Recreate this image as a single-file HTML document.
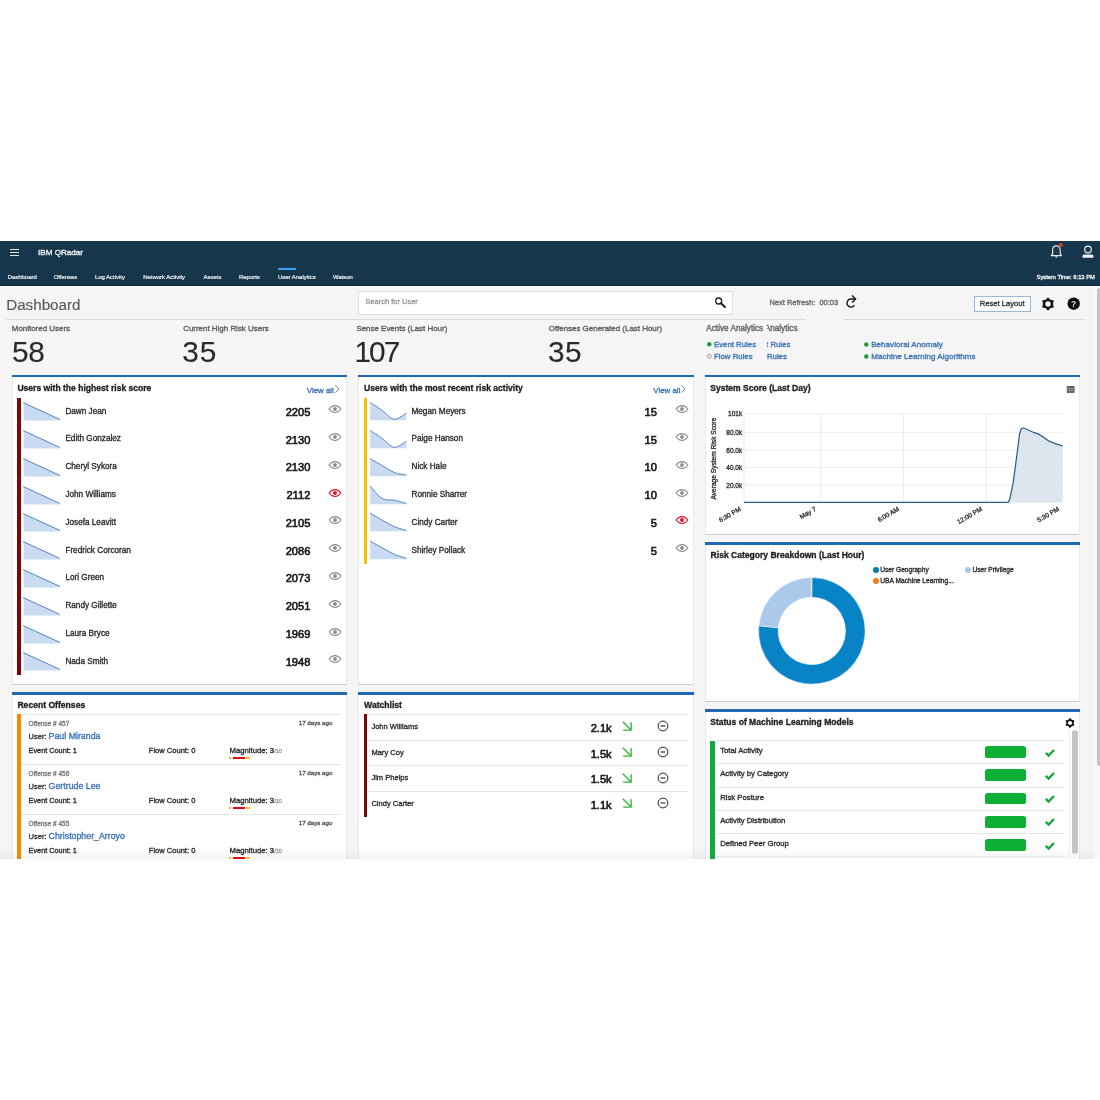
<!DOCTYPE html>
<html><head><meta charset="utf-8"><title>IBM QRadar - User Analytics Dashboard</title>
<style>
html,body{margin:0;padding:0;background:#fff;}
body{width:1100px;height:1100px;position:relative;overflow:hidden;font-family:"Liberation Sans",Arial,Helvetica,sans-serif;}
.t{position:absolute;white-space:nowrap;line-height:1;-webkit-text-stroke:0.32px;}
.r{position:absolute;}
.s{position:absolute;overflow:visible;}
svg text{font-family:"Liberation Sans",Arial,sans-serif;stroke:#2a2a2a;stroke-width:0.3px;}
#app{position:absolute;left:0;top:0;width:1100px;height:1100px;filter:blur(0.35px);}
</style></head><body><div id="app">
<div class="r" style="left:0.00px;top:241.00px;width:1100.00px;height:26.40px;background:#15364b;"></div>
<div class="r" style="left:0.00px;top:267.40px;width:1100.00px;height:18.20px;background:#15364b;"></div>
<div class="r" style="left:0.00px;top:267.00px;width:1100.00px;height:0.80px;background:#1a3b53;"></div>
<div class="r" style="left:0.00px;top:285.00px;width:1100.00px;height:0.60px;background:#10293a;"></div>
<div class="r" style="left:10.00px;top:248.90px;width:9.00px;height:1.20px;background:#e6e9ec;"></div>
<div class="r" style="left:10.00px;top:251.90px;width:9.00px;height:1.20px;background:#e6e9ec;"></div>
<div class="r" style="left:10.00px;top:254.90px;width:9.00px;height:1.20px;background:#e6e9ec;"></div>
<div class="t" style="left:38.00px;top:248.95px;font-size:8.1px;color:#f2f4f6;">IBM QRadar</div>
<div class="t" style="left:7.70px;top:275.32px;font-size:5.95px;color:#f0f2f4;-webkit-text-stroke:0.2px;">Dashboard</div>
<div class="t" style="left:53.70px;top:275.32px;font-size:5.95px;color:#f0f2f4;-webkit-text-stroke:0.2px;">Offenses</div>
<div class="t" style="left:94.90px;top:275.32px;font-size:5.95px;color:#f0f2f4;-webkit-text-stroke:0.2px;">Log Activity</div>
<div class="t" style="left:143.20px;top:275.32px;font-size:5.95px;color:#f0f2f4;-webkit-text-stroke:0.2px;">Network Activity</div>
<div class="t" style="left:203.60px;top:275.32px;font-size:5.95px;color:#f0f2f4;-webkit-text-stroke:0.2px;">Assets</div>
<div class="t" style="left:239.00px;top:275.32px;font-size:5.95px;color:#f0f2f4;-webkit-text-stroke:0.2px;">Reports</div>
<div class="t" style="left:278.00px;top:275.32px;font-size:5.95px;color:#f0f2f4;-webkit-text-stroke:0.2px;">User Analytics</div>
<div class="t" style="left:333.00px;top:275.32px;font-size:5.95px;color:#f0f2f4;-webkit-text-stroke:0.2px;">Watson</div>
<div class="r" style="left:278.00px;top:268.00px;width:17.60px;height:2.40px;background:#3d9fec;"></div>
<div class="t" style="right:5.10px;top:274.50px;font-size:5.8px;color:#f0f2f4;">System Time: 6:13 PM</div>
<svg class="s" style="left:1049.00px;top:243.00px;" width="16" height="17" viewBox="0 0 16 17"><path d="M2.2 12.6 H12.6 L11.2 10.8 V7.2 C11.2 4.6 9.6 2.9 7.4 2.9 C5.2 2.9 3.6 4.6 3.6 7.2 V10.8 Z" fill="none" stroke="#e8ecef" stroke-width="1.15" stroke-linejoin="round"/><path d="M5.9 13.6 H8.9 L7.4 15 Z" fill="#e8ecef"/><circle cx="11.7" cy="2.1" r="2.1" fill="#e5352b"/></svg>
<svg class="s" style="left:1081.00px;top:244.00px;" width="14" height="15" viewBox="0 0 14 15"><circle cx="7" cy="5.5" r="3.3" fill="none" stroke="#eef1f3" stroke-width="1.2"/><path d="M1.5 13.8 V12.2 C1.5 11 2.4 10.5 3.6 10.5 H10.4 C11.6 10.5 12.5 11 12.5 12.2 V13.8 Z" fill="#eef1f3"/></svg>
<div class="r" style="left:0.00px;top:285.60px;width:1100.00px;height:573.20px;background:#f5f5f5;"></div>
<div class="r" style="left:0.00px;top:285.60px;width:1093.60px;height:2.40px;background:linear-gradient(#fcfcfc,#f5f5f5);"></div>
<div class="r" style="left:1093.60px;top:285.60px;width:6.40px;height:573.20px;background:#f9f9f9;"></div>
<div class="r" style="left:1096.60px;top:287.90px;width:5.00px;height:478.00px;background:#c3c3c3;border-radius:3px;"></div>
<div class="t" style="left:6.20px;top:297.20px;font-size:15.2px;color:#555a5e;-webkit-text-stroke:0.12px;">Dashboard</div>
<div class="r" style="left:358.40px;top:291.30px;width:375.10px;height:23.80px;background:#fff;box-sizing:border-box;border:1px solid #dedede;"></div>
<div class="t" style="left:365.30px;top:298.25px;font-size:7.5px;color:#9a9a9a;">Search for User</div>
<svg class="s" style="left:713.00px;top:295.00px;" width="15" height="15" viewBox="0 0 15 15"><circle cx="5.7" cy="6.0" r="3.0" fill="none" stroke="#1e1e1e" stroke-width="1.3"/><path d="M8.0 8.3 L11.9 12.0" stroke="#1e1e1e" stroke-width="2" stroke-linecap="round"/></svg>
<div class="t" style="left:769.40px;top:298.65px;font-size:7.5px;color:#666;">Next Refresh:&nbsp; 00:03</div>
<svg class="s" style="left:845.00px;top:294.00px;" width="13" height="15" viewBox="0 0 13 15"><path d="M9.4 11.2 A4 4 0 1 1 6.6 5 L10.4 5" fill="none" stroke="#151515" stroke-width="1.35"/><path d="M7 1.5 L10.6 5 L7 8.5" fill="none" stroke="#151515" stroke-width="1.4"/></svg>
<div class="r" style="left:974.00px;top:296.20px;width:56.70px;height:15.50px;background:#fff;box-sizing:border-box;border:1px solid #9cb9dd;"></div>
<div class="t" style="left:979.80px;top:299.80px;font-size:7.6px;color:#333;">Reset Layout</div>
<svg class="s" style="left:1041.40px;top:296.70px;" width="14" height="14" viewBox="0 0 14 14"><circle cx="7.00" cy="2.10" r="1.45" fill="#0c0c0c"/><circle cx="11.24" cy="4.55" r="1.45" fill="#0c0c0c"/><circle cx="11.24" cy="9.45" r="1.45" fill="#0c0c0c"/><circle cx="7.00" cy="11.90" r="1.45" fill="#0c0c0c"/><circle cx="2.76" cy="9.45" r="1.45" fill="#0c0c0c"/><circle cx="2.76" cy="4.55" r="1.45" fill="#0c0c0c"/><circle cx="7" cy="7" r="3.90" fill="none" stroke="#0c0c0c" stroke-width="2.30"/></svg>
<svg class="s" style="left:1066.50px;top:297.10px;" width="14" height="14" viewBox="0 0 14 14"><circle cx="6.7" cy="6.7" r="6.25" fill="#0d0d0d"/><text x="6.7" y="9.8" text-anchor="middle" font-family="Liberation Sans" font-weight="700" font-size="8.6" fill="#e4e4e4" style="stroke:none">?</text></svg>
<div class="r" style="left:6.40px;top:319.00px;width:799.60px;height:0.90px;background:#dcdcdc;"></div>
<div class="r" style="left:843.70px;top:319.00px;width:241.50px;height:0.90px;background:#dcdcdc;"></div>
<div class="t" style="left:11.80px;top:324.92px;font-size:7.95px;color:#5b5b5b;">Monitored Users</div>
<div class="t" style="left:11.90px;top:336.50px;font-size:29.8px;color:#2a2a2a;letter-spacing:-0.3px;-webkit-text-stroke:0.1px;">58</div>
<div class="t" style="left:183.20px;top:324.92px;font-size:7.95px;color:#5b5b5b;">Current High Risk Users</div>
<div class="t" style="left:182.30px;top:336.50px;font-size:29.8px;color:#2a2a2a;letter-spacing:1.0px;-webkit-text-stroke:0.1px;">35</div>
<div class="t" style="left:356.40px;top:324.92px;font-size:7.95px;color:#5b5b5b;">Sense Events (Last Hour)</div>
<div class="t" style="left:354.50px;top:336.50px;font-size:29.8px;color:#2a2a2a;letter-spacing:-2.0px;-webkit-text-stroke:0.1px;">107</div>
<div class="t" style="left:548.80px;top:324.92px;font-size:7.95px;color:#5b5b5b;">Offenses Generated (Last Hour)</div>
<div class="t" style="left:547.90px;top:336.50px;font-size:29.8px;color:#2a2a2a;letter-spacing:0.5px;-webkit-text-stroke:0.1px;">35</div>
<div class="t" style="left:706.30px;top:324.80px;font-size:8.2px;color:#5b5b5b;">Active Analytics</div>
<div class="t" style="left:714.00px;top:340.80px;font-size:7.8px;color:#3a72b8;">Event Rules</div>
<div class="t" style="left:714.00px;top:352.80px;font-size:7.8px;color:#3a72b8;">Flow Rules</div>
<svg class="s" style="left:706.00px;top:341.00px;" width="8" height="18" viewBox="0 0 8 18"><circle cx="3.3" cy="3.3" r="2.2" fill="#1f9a3a"/><circle cx="3.3" cy="15.3" r="1.9" fill="none" stroke="#8a8a8a" stroke-width="0.9"/></svg>
<div class="r" style="left:766.6px;top:322px;width:40px;height:40px;overflow:hidden;background:#f5f5f5">
<div class="t" style="left:-26.00px;top:2.80px;font-size:8.2px;color:#5b5b5b">Active Analytics</div>
<div class="t" style="left:-18.30px;top:18.80px;font-size:7.8px;color:#3a72b8">Event Rules</div>
<div class="t" style="left:-18.30px;top:30.80px;font-size:7.8px;color:#3a72b8">Flow Rules</div>
</div>
<svg class="s" style="left:862.00px;top:341.00px;" width="8" height="18" viewBox="0 0 8 18"><circle cx="4.3" cy="3.5" r="2.2" fill="#1f9a3a"/><circle cx="4.3" cy="15.5" r="2.2" fill="#1f9a3a"/></svg>
<div class="t" style="left:871.20px;top:340.85px;font-size:8.1px;color:#3a72b8;">Behavioral Anomaly</div>
<div class="t" style="left:871.20px;top:352.85px;font-size:8.1px;color:#3a72b8;">Machine Learning Algorithms</div>
<div class="r" style="left:11.60px;top:375.00px;width:335.50px;height:309.80px;background:#fff;box-sizing:border-box;border:1px solid #e9e9e9;border-top:none;border-bottom-color:#cdcdcd;"></div>
<div class="r" style="left:11.60px;top:375.00px;width:335.50px;height:2.40px;background:#2168b3;"></div>
<div class="r" style="left:358.30px;top:375.00px;width:335.30px;height:309.80px;background:#fff;box-sizing:border-box;border:1px solid #e9e9e9;border-top:none;border-bottom-color:#cdcdcd;"></div>
<div class="r" style="left:358.30px;top:375.00px;width:335.30px;height:2.40px;background:#2168b3;"></div>
<div class="r" style="left:705.00px;top:375.00px;width:375.20px;height:159.80px;background:#fff;box-sizing:border-box;border:1px solid #e9e9e9;border-top:none;border-bottom-color:#cdcdcd;"></div>
<div class="r" style="left:705.00px;top:375.00px;width:375.20px;height:2.40px;background:#2168b3;"></div>
<div class="r" style="left:705.00px;top:542.30px;width:375.20px;height:159.60px;background:#fff;box-sizing:border-box;border:1px solid #e9e9e9;border-top:none;border-bottom-color:#cdcdcd;"></div>
<div class="r" style="left:705.00px;top:542.30px;width:375.20px;height:2.40px;background:#2168b3;"></div>
<div class="r" style="left:704.80px;top:709.40px;width:375.00px;height:160.00px;background:#fff;box-sizing:border-box;border:1px solid #e9e9e9;border-top:none;border-bottom-color:#cdcdcd;"></div>
<div class="r" style="left:704.80px;top:709.40px;width:375.00px;height:2.40px;background:#2168b3;"></div>
<div class="r" style="left:11.60px;top:692.40px;width:335.50px;height:170.00px;background:#fff;box-sizing:border-box;border:1px solid #e9e9e9;border-top:none;border-bottom-color:#cdcdcd;"></div>
<div class="r" style="left:11.60px;top:692.40px;width:335.50px;height:2.40px;background:#2168b3;"></div>
<div class="r" style="left:358.30px;top:692.40px;width:335.30px;height:170.00px;background:#fff;box-sizing:border-box;border:1px solid #e9e9e9;border-top:none;border-bottom-color:#cdcdcd;"></div>
<div class="r" style="left:358.30px;top:692.40px;width:335.30px;height:2.40px;background:#2168b3;"></div>
<div class="r" style="left:0.00px;top:846.00px;width:1093.60px;height:12.80px;background:linear-gradient(rgba(0,0,0,0),rgba(0,0,0,0.035));"></div>
<div class="t" style="left:17.40px;top:384.03px;font-size:8.55px;color:#1f1f1f;font-weight:700;">Users with the highest risk score</div>
<div class="t" style="left:306.80px;top:386.55px;font-size:7.9px;color:#3a72b8;">View all</div>
<svg class="s" style="left:333.90px;top:383.50px;" width="7" height="10" viewBox="0 0 7 10"><path d="M1.2 1.2 L5 5 L1.2 8.8" fill="none" stroke="#7a7a7a" stroke-width="0.9"/></svg>
<div class="r" style="left:17.10px;top:397.90px;width:3.70px;height:277.60px;background:#7d0606;"></div>
<svg class="s" style="left:22.00px;top:401.30px;" width="40" height="21" viewBox="0 0 40 21"><path d="M1.6 1.7 L37.8 18.5 L37.8 19.4 L1.6 19.4 Z" fill="#c9dbf0"/><path d="M1.2 1.6 L37.8 18.4" fill="none" stroke="#4477b8" stroke-width="0.9"/></svg>
<div class="t" style="left:65.40px;top:407.60px;font-size:8.2px;color:#2a2a2a;">Dawn Jean</div>
<div class="t" style="right:789.70px;top:406.75px;font-size:11.1px;color:#161616;-webkit-text-stroke:0.6px #161616;">2205</div>
<svg class="s" style="left:328.00px;top:404.30px;" width="14" height="10" viewBox="0 0 14 10"><path d="M1.1 5 C3 2.3 5 1.6 7 1.6 C9 1.6 11 2.3 12.9 5 C11 7.7 9 8.4 7 8.4 C5 8.4 3 7.7 1.1 5 Z" fill="none" stroke="#8c8c8c" stroke-width="1.05"/><circle cx="7" cy="5" r="1.95" fill="#8c8c8c"/></svg>
<svg class="s" style="left:22.00px;top:429.08px;" width="40" height="21" viewBox="0 0 40 21"><path d="M1.6 1.7 L37.8 18.5 L37.8 19.4 L1.6 19.4 Z" fill="#c9dbf0"/><path d="M1.2 1.6 L37.8 18.4" fill="none" stroke="#4477b8" stroke-width="0.9"/></svg>
<div class="t" style="left:65.40px;top:435.38px;font-size:8.2px;color:#2a2a2a;">Edith Gonzalez</div>
<div class="t" style="right:789.70px;top:434.53px;font-size:11.1px;color:#161616;-webkit-text-stroke:0.6px #161616;">2130</div>
<svg class="s" style="left:328.00px;top:432.08px;" width="14" height="10" viewBox="0 0 14 10"><path d="M1.1 5 C3 2.3 5 1.6 7 1.6 C9 1.6 11 2.3 12.9 5 C11 7.7 9 8.4 7 8.4 C5 8.4 3 7.7 1.1 5 Z" fill="none" stroke="#8c8c8c" stroke-width="1.05"/><circle cx="7" cy="5" r="1.95" fill="#8c8c8c"/></svg>
<svg class="s" style="left:22.00px;top:456.86px;" width="40" height="21" viewBox="0 0 40 21"><path d="M1.6 1.7 L37.8 18.5 L37.8 19.4 L1.6 19.4 Z" fill="#c9dbf0"/><path d="M1.2 1.6 L37.8 18.4" fill="none" stroke="#4477b8" stroke-width="0.9"/></svg>
<div class="t" style="left:65.40px;top:463.16px;font-size:8.2px;color:#2a2a2a;">Cheryl Sykora</div>
<div class="t" style="right:789.70px;top:462.31px;font-size:11.1px;color:#161616;-webkit-text-stroke:0.6px #161616;">2130</div>
<svg class="s" style="left:328.00px;top:459.86px;" width="14" height="10" viewBox="0 0 14 10"><path d="M1.1 5 C3 2.3 5 1.6 7 1.6 C9 1.6 11 2.3 12.9 5 C11 7.7 9 8.4 7 8.4 C5 8.4 3 7.7 1.1 5 Z" fill="none" stroke="#8c8c8c" stroke-width="1.05"/><circle cx="7" cy="5" r="1.95" fill="#8c8c8c"/></svg>
<svg class="s" style="left:22.00px;top:484.64px;" width="40" height="21" viewBox="0 0 40 21"><path d="M1.6 1.7 L37.8 18.5 L37.8 19.4 L1.6 19.4 Z" fill="#c9dbf0"/><path d="M1.2 1.6 L37.8 18.4" fill="none" stroke="#4477b8" stroke-width="0.9"/></svg>
<div class="t" style="left:65.40px;top:490.94px;font-size:8.2px;color:#2a2a2a;">John Williams</div>
<div class="t" style="right:789.70px;top:490.09px;font-size:11.1px;color:#161616;-webkit-text-stroke:0.6px #161616;">2112</div>
<svg class="s" style="left:328.00px;top:487.64px;" width="14" height="10" viewBox="0 0 14 10"><path d="M1.1 5 C3 2.3 5 1.6 7 1.6 C9 1.6 11 2.3 12.9 5 C11 7.7 9 8.4 7 8.4 C5 8.4 3 7.7 1.1 5 Z" fill="none" stroke="#d3142d" stroke-width="1.05"/><circle cx="7" cy="5" r="1.95" fill="#f00a1e"/></svg>
<svg class="s" style="left:22.00px;top:512.42px;" width="40" height="21" viewBox="0 0 40 21"><path d="M1.6 1.7 L37.8 18.5 L37.8 19.4 L1.6 19.4 Z" fill="#c9dbf0"/><path d="M1.2 1.6 L37.8 18.4" fill="none" stroke="#4477b8" stroke-width="0.9"/></svg>
<div class="t" style="left:65.40px;top:518.72px;font-size:8.2px;color:#2a2a2a;">Josefa Leavitt</div>
<div class="t" style="right:789.70px;top:517.87px;font-size:11.1px;color:#161616;-webkit-text-stroke:0.6px #161616;">2105</div>
<svg class="s" style="left:328.00px;top:515.42px;" width="14" height="10" viewBox="0 0 14 10"><path d="M1.1 5 C3 2.3 5 1.6 7 1.6 C9 1.6 11 2.3 12.9 5 C11 7.7 9 8.4 7 8.4 C5 8.4 3 7.7 1.1 5 Z" fill="none" stroke="#8c8c8c" stroke-width="1.05"/><circle cx="7" cy="5" r="1.95" fill="#8c8c8c"/></svg>
<svg class="s" style="left:22.00px;top:540.20px;" width="40" height="21" viewBox="0 0 40 21"><path d="M1.6 1.7 L37.8 18.5 L37.8 19.4 L1.6 19.4 Z" fill="#c9dbf0"/><path d="M1.2 1.6 L37.8 18.4" fill="none" stroke="#4477b8" stroke-width="0.9"/></svg>
<div class="t" style="left:65.40px;top:546.50px;font-size:8.2px;color:#2a2a2a;">Fredrick Corcoran</div>
<div class="t" style="right:789.70px;top:545.65px;font-size:11.1px;color:#161616;-webkit-text-stroke:0.6px #161616;">2086</div>
<svg class="s" style="left:328.00px;top:543.20px;" width="14" height="10" viewBox="0 0 14 10"><path d="M1.1 5 C3 2.3 5 1.6 7 1.6 C9 1.6 11 2.3 12.9 5 C11 7.7 9 8.4 7 8.4 C5 8.4 3 7.7 1.1 5 Z" fill="none" stroke="#8c8c8c" stroke-width="1.05"/><circle cx="7" cy="5" r="1.95" fill="#8c8c8c"/></svg>
<svg class="s" style="left:22.00px;top:567.98px;" width="40" height="21" viewBox="0 0 40 21"><path d="M1.6 1.7 L37.8 18.5 L37.8 19.4 L1.6 19.4 Z" fill="#c9dbf0"/><path d="M1.2 1.6 L37.8 18.4" fill="none" stroke="#4477b8" stroke-width="0.9"/></svg>
<div class="t" style="left:65.40px;top:574.28px;font-size:8.2px;color:#2a2a2a;">Lori Green</div>
<div class="t" style="right:789.70px;top:573.43px;font-size:11.1px;color:#161616;-webkit-text-stroke:0.6px #161616;">2073</div>
<svg class="s" style="left:328.00px;top:570.98px;" width="14" height="10" viewBox="0 0 14 10"><path d="M1.1 5 C3 2.3 5 1.6 7 1.6 C9 1.6 11 2.3 12.9 5 C11 7.7 9 8.4 7 8.4 C5 8.4 3 7.7 1.1 5 Z" fill="none" stroke="#8c8c8c" stroke-width="1.05"/><circle cx="7" cy="5" r="1.95" fill="#8c8c8c"/></svg>
<svg class="s" style="left:22.00px;top:595.76px;" width="40" height="21" viewBox="0 0 40 21"><path d="M1.6 1.7 L37.8 18.5 L37.8 19.4 L1.6 19.4 Z" fill="#c9dbf0"/><path d="M1.2 1.6 L37.8 18.4" fill="none" stroke="#4477b8" stroke-width="0.9"/></svg>
<div class="t" style="left:65.40px;top:602.06px;font-size:8.2px;color:#2a2a2a;">Randy Gillette</div>
<div class="t" style="right:789.70px;top:601.21px;font-size:11.1px;color:#161616;-webkit-text-stroke:0.6px #161616;">2051</div>
<svg class="s" style="left:328.00px;top:598.76px;" width="14" height="10" viewBox="0 0 14 10"><path d="M1.1 5 C3 2.3 5 1.6 7 1.6 C9 1.6 11 2.3 12.9 5 C11 7.7 9 8.4 7 8.4 C5 8.4 3 7.7 1.1 5 Z" fill="none" stroke="#8c8c8c" stroke-width="1.05"/><circle cx="7" cy="5" r="1.95" fill="#8c8c8c"/></svg>
<svg class="s" style="left:22.00px;top:623.54px;" width="40" height="21" viewBox="0 0 40 21"><path d="M1.6 1.7 L37.8 18.5 L37.8 19.4 L1.6 19.4 Z" fill="#c9dbf0"/><path d="M1.2 1.6 L37.8 18.4" fill="none" stroke="#4477b8" stroke-width="0.9"/></svg>
<div class="t" style="left:65.40px;top:629.84px;font-size:8.2px;color:#2a2a2a;">Laura Bryce</div>
<div class="t" style="right:789.70px;top:628.99px;font-size:11.1px;color:#161616;-webkit-text-stroke:0.6px #161616;">1969</div>
<svg class="s" style="left:328.00px;top:626.54px;" width="14" height="10" viewBox="0 0 14 10"><path d="M1.1 5 C3 2.3 5 1.6 7 1.6 C9 1.6 11 2.3 12.9 5 C11 7.7 9 8.4 7 8.4 C5 8.4 3 7.7 1.1 5 Z" fill="none" stroke="#8c8c8c" stroke-width="1.05"/><circle cx="7" cy="5" r="1.95" fill="#8c8c8c"/></svg>
<svg class="s" style="left:22.00px;top:651.32px;" width="40" height="21" viewBox="0 0 40 21"><path d="M1.6 1.7 L37.8 18.5 L37.8 19.4 L1.6 19.4 Z" fill="#c9dbf0"/><path d="M1.2 1.6 L37.8 18.4" fill="none" stroke="#4477b8" stroke-width="0.9"/></svg>
<div class="t" style="left:65.40px;top:657.62px;font-size:8.2px;color:#2a2a2a;">Nada Smith</div>
<div class="t" style="right:789.70px;top:656.77px;font-size:11.1px;color:#161616;-webkit-text-stroke:0.6px #161616;">1948</div>
<svg class="s" style="left:328.00px;top:654.32px;" width="14" height="10" viewBox="0 0 14 10"><path d="M1.1 5 C3 2.3 5 1.6 7 1.6 C9 1.6 11 2.3 12.9 5 C11 7.7 9 8.4 7 8.4 C5 8.4 3 7.7 1.1 5 Z" fill="none" stroke="#8c8c8c" stroke-width="1.05"/><circle cx="7" cy="5" r="1.95" fill="#8c8c8c"/></svg>
<div class="t" style="left:364.10px;top:384.03px;font-size:8.55px;color:#1f1f1f;font-weight:700;">Users with the most recent risk activity</div>
<div class="t" style="left:653.30px;top:386.55px;font-size:7.9px;color:#3a72b8;">View all</div>
<svg class="s" style="left:680.40px;top:383.50px;" width="7" height="10" viewBox="0 0 7 10"><path d="M1.2 1.2 L5 5 L1.2 8.8" fill="none" stroke="#7a7a7a" stroke-width="0.9"/></svg>
<div class="r" style="left:363.50px;top:397.90px;width:3.70px;height:166.00px;background:#f5c200;"></div>
<svg class="s" style="left:368.50px;top:401.30px;" width="40" height="21" viewBox="0 0 40 21"><path d="M1.20 1.40 C3.20 2.75 9.20 6.68 13.20 9.50 C17.20 12.32 21.17 17.85 25.20 18.30 C29.23 18.75 35.37 13.22 37.40 12.20 L37.4 19.2 L1.2 19.2 Z" fill="#c9dbf0"/><path d="M1.20 1.40 C3.20 2.75 9.20 6.68 13.20 9.50 C17.20 12.32 21.17 17.85 25.20 18.30 C29.23 18.75 35.37 13.22 37.40 12.20" fill="none" stroke="#4477b8" stroke-width="0.9"/></svg>
<div class="t" style="left:411.50px;top:407.60px;font-size:8.2px;color:#2a2a2a;">Megan Meyers</div>
<div class="t" style="right:443.10px;top:406.75px;font-size:11.1px;color:#161616;-webkit-text-stroke:0.6px #161616;">15</div>
<svg class="s" style="left:674.50px;top:404.30px;" width="14" height="10" viewBox="0 0 14 10"><path d="M1.1 5 C3 2.3 5 1.6 7 1.6 C9 1.6 11 2.3 12.9 5 C11 7.7 9 8.4 7 8.4 C5 8.4 3 7.7 1.1 5 Z" fill="none" stroke="#8c8c8c" stroke-width="1.05"/><circle cx="7" cy="5" r="1.95" fill="#8c8c8c"/></svg>
<svg class="s" style="left:368.50px;top:429.08px;" width="40" height="21" viewBox="0 0 40 21"><path d="M1.20 1.40 C3.20 2.75 9.20 6.68 13.20 9.50 C17.20 12.32 21.17 17.85 25.20 18.30 C29.23 18.75 35.37 13.22 37.40 12.20 L37.4 19.2 L1.2 19.2 Z" fill="#c9dbf0"/><path d="M1.20 1.40 C3.20 2.75 9.20 6.68 13.20 9.50 C17.20 12.32 21.17 17.85 25.20 18.30 C29.23 18.75 35.37 13.22 37.40 12.20" fill="none" stroke="#4477b8" stroke-width="0.9"/></svg>
<div class="t" style="left:411.50px;top:435.38px;font-size:8.2px;color:#2a2a2a;">Paige Hanson</div>
<div class="t" style="right:443.10px;top:434.53px;font-size:11.1px;color:#161616;-webkit-text-stroke:0.6px #161616;">15</div>
<svg class="s" style="left:674.50px;top:432.08px;" width="14" height="10" viewBox="0 0 14 10"><path d="M1.1 5 C3 2.3 5 1.6 7 1.6 C9 1.6 11 2.3 12.9 5 C11 7.7 9 8.4 7 8.4 C5 8.4 3 7.7 1.1 5 Z" fill="none" stroke="#8c8c8c" stroke-width="1.05"/><circle cx="7" cy="5" r="1.95" fill="#8c8c8c"/></svg>
<svg class="s" style="left:368.50px;top:456.86px;" width="40" height="21" viewBox="0 0 40 21"><path d="M1.20 1.60 C3.20 2.77 9.20 6.30 13.20 8.60 C17.20 10.90 21.17 13.82 25.20 15.40 C29.23 16.98 35.37 17.65 37.40 18.10 L37.4 19.2 L1.2 19.2 Z" fill="#c9dbf0"/><path d="M1.20 1.60 C3.20 2.77 9.20 6.30 13.20 8.60 C17.20 10.90 21.17 13.82 25.20 15.40 C29.23 16.98 35.37 17.65 37.40 18.10" fill="none" stroke="#4477b8" stroke-width="0.9"/></svg>
<div class="t" style="left:411.50px;top:463.16px;font-size:8.2px;color:#2a2a2a;">Nick Hale</div>
<div class="t" style="right:443.10px;top:462.31px;font-size:11.1px;color:#161616;-webkit-text-stroke:0.6px #161616;">10</div>
<svg class="s" style="left:674.50px;top:459.86px;" width="14" height="10" viewBox="0 0 14 10"><path d="M1.1 5 C3 2.3 5 1.6 7 1.6 C9 1.6 11 2.3 12.9 5 C11 7.7 9 8.4 7 8.4 C5 8.4 3 7.7 1.1 5 Z" fill="none" stroke="#8c8c8c" stroke-width="1.05"/><circle cx="7" cy="5" r="1.95" fill="#8c8c8c"/></svg>
<svg class="s" style="left:368.50px;top:484.64px;" width="40" height="21" viewBox="0 0 40 21"><path d="M1.20 1.10 C3.20 3.18 9.20 11.25 13.20 13.60 C17.20 15.95 21.17 14.38 25.20 15.20 C29.23 16.02 35.37 17.95 37.40 18.50 L37.4 19.2 L1.2 19.2 Z" fill="#c9dbf0"/><path d="M1.20 1.10 C3.20 3.18 9.20 11.25 13.20 13.60 C17.20 15.95 21.17 14.38 25.20 15.20 C29.23 16.02 35.37 17.95 37.40 18.50" fill="none" stroke="#4477b8" stroke-width="0.9"/></svg>
<div class="t" style="left:411.50px;top:490.94px;font-size:8.2px;color:#2a2a2a;">Ronnie Sharrer</div>
<div class="t" style="right:443.10px;top:490.09px;font-size:11.1px;color:#161616;-webkit-text-stroke:0.6px #161616;">10</div>
<svg class="s" style="left:674.50px;top:487.64px;" width="14" height="10" viewBox="0 0 14 10"><path d="M1.1 5 C3 2.3 5 1.6 7 1.6 C9 1.6 11 2.3 12.9 5 C11 7.7 9 8.4 7 8.4 C5 8.4 3 7.7 1.1 5 Z" fill="none" stroke="#8c8c8c" stroke-width="1.05"/><circle cx="7" cy="5" r="1.95" fill="#8c8c8c"/></svg>
<svg class="s" style="left:368.50px;top:512.42px;" width="40" height="21" viewBox="0 0 40 21"><path d="M1.20 1.10 C3.20 2.28 9.20 5.95 13.20 8.20 C17.20 10.45 21.17 12.88 25.20 14.60 C29.23 16.32 35.37 17.85 37.40 18.50 L37.4 19.2 L1.2 19.2 Z" fill="#c9dbf0"/><path d="M1.20 1.10 C3.20 2.28 9.20 5.95 13.20 8.20 C17.20 10.45 21.17 12.88 25.20 14.60 C29.23 16.32 35.37 17.85 37.40 18.50" fill="none" stroke="#4477b8" stroke-width="0.9"/></svg>
<div class="t" style="left:411.50px;top:518.72px;font-size:8.2px;color:#2a2a2a;">Cindy Carter</div>
<div class="t" style="right:443.10px;top:517.87px;font-size:11.1px;color:#161616;-webkit-text-stroke:0.6px #161616;">5</div>
<svg class="s" style="left:674.50px;top:515.42px;" width="14" height="10" viewBox="0 0 14 10"><path d="M1.1 5 C3 2.3 5 1.6 7 1.6 C9 1.6 11 2.3 12.9 5 C11 7.7 9 8.4 7 8.4 C5 8.4 3 7.7 1.1 5 Z" fill="none" stroke="#d3142d" stroke-width="1.05"/><circle cx="7" cy="5" r="1.95" fill="#f00a1e"/></svg>
<svg class="s" style="left:368.50px;top:540.20px;" width="40" height="21" viewBox="0 0 40 21"><path d="M1.20 1.10 C3.20 2.23 9.20 5.72 13.20 7.90 C17.20 10.08 21.17 12.43 25.20 14.20 C29.23 15.97 35.37 17.78 37.40 18.50 L37.4 19.2 L1.2 19.2 Z" fill="#c9dbf0"/><path d="M1.20 1.10 C3.20 2.23 9.20 5.72 13.20 7.90 C17.20 10.08 21.17 12.43 25.20 14.20 C29.23 15.97 35.37 17.78 37.40 18.50" fill="none" stroke="#4477b8" stroke-width="0.9"/></svg>
<div class="t" style="left:411.50px;top:546.50px;font-size:8.2px;color:#2a2a2a;">Shirley Pollack</div>
<div class="t" style="right:443.10px;top:545.65px;font-size:11.1px;color:#161616;-webkit-text-stroke:0.6px #161616;">5</div>
<svg class="s" style="left:674.50px;top:543.20px;" width="14" height="10" viewBox="0 0 14 10"><path d="M1.1 5 C3 2.3 5 1.6 7 1.6 C9 1.6 11 2.3 12.9 5 C11 7.7 9 8.4 7 8.4 C5 8.4 3 7.7 1.1 5 Z" fill="none" stroke="#8c8c8c" stroke-width="1.05"/><circle cx="7" cy="5" r="1.95" fill="#8c8c8c"/></svg>
<div class="t" style="left:710.30px;top:384.23px;font-size:8.55px;color:#1f1f1f;font-weight:700;">System Score (Last Day)</div>
<svg class="s" style="left:1065.50px;top:384.50px;" width="10" height="9" viewBox="0 0 10 9"><rect x="0.8" y="0.9" width="7.8" height="7.2" rx="0.8" fill="#5a5a5a"/><path d="M0.8 3.2 H8.6 M0.8 5.2 H8.6 M3.4 3.2 V8.1 M6 3.2 V8.1" stroke="#c8c8c8" stroke-width="0.45"/></svg>
<svg class="s" style="left:705.00px;top:395.00px;font-family:Liberation Sans;" width="375" height="137" viewBox="0 0 375 137"><path d="M39.00 19.10 L357.80 19.10" stroke="#e9e9e9" stroke-width="0.8"/><path d="M39.00 37.30 L357.80 37.30" stroke="#e9e9e9" stroke-width="0.8"/><path d="M39.00 55.10 L357.80 55.10" stroke="#e9e9e9" stroke-width="0.8"/><path d="M39.00 72.60 L357.80 72.60" stroke="#e9e9e9" stroke-width="0.8"/><path d="M39.00 90.30 L357.80 90.30" stroke="#e9e9e9" stroke-width="0.8"/><path d="M115.60 19.00 L115.60 107.30" stroke="#e6e6e6" stroke-width="0.8"/><path d="M198.60 19.00 L198.60 107.30" stroke="#e6e6e6" stroke-width="0.8"/><path d="M281.30 19.00 L281.30 107.30" stroke="#e6e6e6" stroke-width="0.8"/><path d="M39.00 19.00 L39.00 107.30" stroke="#dfe3e8" stroke-width="0.8"/><path d="M303.20 107.40 L304.80 104.30 L308.20 87.70 L311.80 60.50 L314.60 39.00 L316.20 33.80 L318.00 33.00 L320.00 33.50 L328.20 37.30 L332.70 38.60 L338.20 42.00 L344.50 46.40 L351.80 49.10 L357.70 51.00 L357.70 107.40 Z" fill="#dde5ee"/><path d="M39.00 107.40 L303.20 107.40 L304.80 104.30 L308.20 87.70 L311.80 60.50 L314.60 39.00 L316.20 33.80 L318.00 33.00 L320.00 33.50 L328.20 37.30 L332.70 38.60 L338.20 42.00 L344.50 46.40 L351.80 49.10 L357.70 51.00" fill="none" stroke="#2b5d89" stroke-width="1.25" stroke-linejoin="round"/><text x="37.20" y="21.40" text-anchor="end" font-size="6.5" fill="#2a2a2a">101k</text><text x="37.20" y="39.90" text-anchor="end" font-size="6.5" fill="#2a2a2a">80.0k</text><text x="37.20" y="57.60" text-anchor="end" font-size="6.5" fill="#2a2a2a">60.0k</text><text x="37.20" y="75.20" text-anchor="end" font-size="6.5" fill="#2a2a2a">40.0k</text><text x="37.20" y="92.70" text-anchor="end" font-size="6.5" fill="#2a2a2a">20.0k</text><text transform="translate(10.90 63.50) rotate(-90)" text-anchor="middle" font-size="6.6" fill="#2a2a2a">Average System Risk Score</text><text transform="translate(36.50 115.30) rotate(-30)" text-anchor="end" font-size="6.5" fill="#2a2a2a">6:30 PM</text><text transform="translate(111.60 115.30) rotate(-30)" text-anchor="end" font-size="6.5" fill="#2a2a2a">May 7</text><text transform="translate(194.80 115.30) rotate(-30)" text-anchor="end" font-size="6.5" fill="#2a2a2a">6:00 AM</text><text transform="translate(277.80 115.30) rotate(-30)" text-anchor="end" font-size="6.5" fill="#2a2a2a">12:00 PM</text><text transform="translate(354.80 115.30) rotate(-30)" text-anchor="end" font-size="6.5" fill="#2a2a2a">5:30 PM</text></svg>
<div class="t" style="left:710.60px;top:550.93px;font-size:8.55px;color:#1f1f1f;font-weight:700;">Risk Category Breakdown (Last Hour)</div>
<svg class="s" style="left:750.00px;top:570.00px;" width="125" height="125" viewBox="0 0 125 125"><path d="M62.08 7.60 A53.3 53.3 0 1 1 8.75 55.79 L28.26 57.67 A33.7 33.7 0 1 0 61.98 27.20 Z" fill="#0883c6" stroke="#fff" stroke-width="0.5"/><path d="M8.75 55.79 A53.3 53.3 0 0 1 61.24 7.60 L61.45 27.20 A33.7 33.7 0 0 0 28.26 57.67 Z" fill="#abcaeb" stroke="#fff" stroke-width="0.5"/><path d="M61.24 7.60 A53.3 53.3 0 0 1 61.80 7.60 L61.80 27.20 A33.7 33.7 0 0 0 61.45 27.20 Z" fill="#e8d2b0"/></svg>
<div class="r" style="left:872.60px;top:566.50px;width:6.20px;height:6.20px;background:#0a78bf;border-radius:50%;"></div>
<div class="r" style="left:964.60px;top:566.50px;width:6.20px;height:6.20px;background:#a9c8ea;border-radius:50%;"></div>
<div class="r" style="left:872.60px;top:578.10px;width:6.20px;height:6.20px;background:#f07d12;border-radius:50%;"></div>
<div class="t" style="left:880.30px;top:566.70px;font-size:6.6px;color:#2a2a2a;">User Geography</div>
<div class="t" style="left:972.40px;top:566.67px;font-size:6.65px;color:#2a2a2a;">User Privilege</div>
<div class="t" style="left:880.30px;top:578.27px;font-size:6.65px;color:#2a2a2a;">UBA Machine Learning...</div>
<div class="t" style="left:710.20px;top:718.02px;font-size:8.55px;color:#1f1f1f;font-weight:700;">Status of Machine Learning Models</div>
<svg class="s" style="left:1064.50px;top:717.50px;" width="10" height="10" viewBox="0 0 10 10"><circle cx="5.00" cy="1.32" r="1.09" fill="#111"/><circle cx="8.18" cy="3.16" r="1.09" fill="#111"/><circle cx="8.18" cy="6.84" r="1.09" fill="#111"/><circle cx="5.00" cy="8.68" r="1.09" fill="#111"/><circle cx="1.82" cy="6.84" r="1.09" fill="#111"/><circle cx="1.82" cy="3.16" r="1.09" fill="#111"/><circle cx="5" cy="5" r="2.92" fill="none" stroke="#111" stroke-width="1.72"/></svg>
<div class="r" style="left:1068.90px;top:729.00px;width:0.70px;height:130.00px;background:#ececec;"></div>
<div class="r" style="left:1072.00px;top:729.50px;width:6.00px;height:124.60px;background:#c4c4c4;border-radius:3px;"></div>
<div class="r" style="left:710.20px;top:740.50px;width:4.80px;height:120.00px;background:#12aa3a;"></div>
<div class="r" style="left:715.50px;top:740.10px;width:348.10px;height:0.90px;background:#e6e6e6;"></div>
<div class="r" style="left:715.50px;top:763.37px;width:348.10px;height:0.90px;background:#e6e6e6;"></div>
<div class="r" style="left:715.50px;top:786.64px;width:348.10px;height:0.90px;background:#e6e6e6;"></div>
<div class="r" style="left:715.50px;top:809.91px;width:348.10px;height:0.90px;background:#e6e6e6;"></div>
<div class="r" style="left:715.50px;top:833.18px;width:348.10px;height:0.90px;background:#e6e6e6;"></div>
<div class="r" style="left:715.50px;top:856.45px;width:348.10px;height:0.90px;background:#e6e6e6;"></div>
<div class="t" style="left:720.20px;top:747.14px;font-size:7.72px;color:#2a2a2a;">Total Activity</div>
<div class="r" style="left:985.00px;top:746.20px;width:41.20px;height:11.70px;background:#0daf35;border-radius:2.6px;"></div>
<svg class="s" style="left:1043.50px;top:747.50px;" width="12" height="10" viewBox="0 0 12 10"><path d="M1.8 4.9 L4.6 7.6 L10 2" fill="none" stroke="#12a63a" stroke-width="2.2"/></svg>
<div class="t" style="left:720.20px;top:770.41px;font-size:7.72px;color:#2a2a2a;">Activity by Category</div>
<div class="r" style="left:985.00px;top:769.47px;width:41.20px;height:11.70px;background:#0daf35;border-radius:2.6px;"></div>
<svg class="s" style="left:1043.50px;top:770.77px;" width="12" height="10" viewBox="0 0 12 10"><path d="M1.8 4.9 L4.6 7.6 L10 2" fill="none" stroke="#12a63a" stroke-width="2.2"/></svg>
<div class="t" style="left:720.20px;top:793.68px;font-size:7.72px;color:#2a2a2a;">Risk Posture</div>
<div class="r" style="left:985.00px;top:792.74px;width:41.20px;height:11.70px;background:#0daf35;border-radius:2.6px;"></div>
<svg class="s" style="left:1043.50px;top:794.04px;" width="12" height="10" viewBox="0 0 12 10"><path d="M1.8 4.9 L4.6 7.6 L10 2" fill="none" stroke="#12a63a" stroke-width="2.2"/></svg>
<div class="t" style="left:720.20px;top:816.95px;font-size:7.72px;color:#2a2a2a;">Activity Distribution</div>
<div class="r" style="left:985.00px;top:816.01px;width:41.20px;height:11.70px;background:#0daf35;border-radius:2.6px;"></div>
<svg class="s" style="left:1043.50px;top:817.31px;" width="12" height="10" viewBox="0 0 12 10"><path d="M1.8 4.9 L4.6 7.6 L10 2" fill="none" stroke="#12a63a" stroke-width="2.2"/></svg>
<div class="t" style="left:720.20px;top:840.22px;font-size:7.72px;color:#2a2a2a;">Defined Peer Group</div>
<div class="r" style="left:985.00px;top:839.28px;width:41.20px;height:11.70px;background:#0daf35;border-radius:2.6px;"></div>
<svg class="s" style="left:1043.50px;top:840.58px;" width="12" height="10" viewBox="0 0 12 10"><path d="M1.8 4.9 L4.6 7.6 L10 2" fill="none" stroke="#12a63a" stroke-width="2.2"/></svg>
<div class="t" style="left:17.40px;top:700.90px;font-size:8.6px;color:#1f1f1f;font-weight:700;">Recent Offenses</div>
<div class="r" style="left:17.10px;top:714.20px;width:3.80px;height:150.00px;background:#f38a00;"></div>
<div class="r" style="left:21.00px;top:713.80px;width:320.00px;height:0.90px;background:#e6e6e6;"></div>
<div class="t" style="left:28.60px;top:720.95px;font-size:6.5px;color:#7a7a7a;">Offense # 457</div>
<div class="t" style="right:767.60px;top:720.30px;font-size:6.2px;color:#555;">17 days ago</div>
<div class="t" style="left:28.60px;top:732.45px;font-size:7.5px;color:#333;">User: <span style="font-size:8.8px;color:#3a72b8">Paul Miranda</span></div>
<div class="t" style="left:28.60px;top:746.55px;font-size:7.3px;color:#2a2a2a;">Event Count: 1</div>
<div class="t" style="left:148.80px;top:747.12px;font-size:7.55px;color:#2a2a2a;">Flow Count: 0</div>
<div class="t" style="left:229.50px;top:746.64px;font-size:7.72px;color:#2a2a2a;">Magnitude: 3<span style="font-size:5.6px;color:#9a9a9a">/10</span></div>
<div class="r" style="left:229.40px;top:756.50px;width:2.10px;height:2.30px;background:#f3c21b;"></div>
<div class="r" style="left:233.00px;top:756.50px;width:11.80px;height:2.30px;background:#dc0a1e;"></div>
<div class="r" style="left:246.20px;top:756.50px;width:4.20px;height:2.30px;background:#f3c21b;"></div>
<div class="r" style="left:21.00px;top:763.80px;width:320.00px;height:0.90px;background:#e6e6e6;"></div>
<div class="t" style="left:28.60px;top:770.95px;font-size:6.5px;color:#7a7a7a;">Offense # 456</div>
<div class="t" style="right:767.60px;top:770.30px;font-size:6.2px;color:#555;">17 days ago</div>
<div class="t" style="left:28.60px;top:782.45px;font-size:7.5px;color:#333;">User: <span style="font-size:8.8px;color:#3a72b8">Gertrude Lee</span></div>
<div class="t" style="left:28.60px;top:796.55px;font-size:7.3px;color:#2a2a2a;">Event Count: 1</div>
<div class="t" style="left:148.80px;top:797.12px;font-size:7.55px;color:#2a2a2a;">Flow Count: 0</div>
<div class="t" style="left:229.50px;top:796.64px;font-size:7.72px;color:#2a2a2a;">Magnitude: 3<span style="font-size:5.6px;color:#9a9a9a">/10</span></div>
<div class="r" style="left:229.40px;top:806.50px;width:2.10px;height:2.30px;background:#f3c21b;"></div>
<div class="r" style="left:233.00px;top:806.50px;width:11.80px;height:2.30px;background:#dc0a1e;"></div>
<div class="r" style="left:246.20px;top:806.50px;width:4.20px;height:2.30px;background:#f3c21b;"></div>
<div class="r" style="left:21.00px;top:813.80px;width:320.00px;height:0.90px;background:#e6e6e6;"></div>
<div class="t" style="left:28.60px;top:820.95px;font-size:6.5px;color:#7a7a7a;">Offense # 455</div>
<div class="t" style="right:767.60px;top:820.30px;font-size:6.2px;color:#555;">17 days ago</div>
<div class="t" style="left:28.60px;top:832.45px;font-size:7.5px;color:#333;">User: <span style="font-size:8.8px;color:#3a72b8">Christopher_Arroyo</span></div>
<div class="t" style="left:28.60px;top:846.55px;font-size:7.3px;color:#2a2a2a;">Event Count: 1</div>
<div class="t" style="left:148.80px;top:847.12px;font-size:7.55px;color:#2a2a2a;">Flow Count: 0</div>
<div class="t" style="left:229.50px;top:846.64px;font-size:7.72px;color:#2a2a2a;">Magnitude: 3<span style="font-size:5.6px;color:#9a9a9a">/10</span></div>
<div class="r" style="left:229.40px;top:856.50px;width:2.10px;height:2.30px;background:#f3c21b;"></div>
<div class="r" style="left:233.00px;top:856.50px;width:11.80px;height:2.30px;background:#dc0a1e;"></div>
<div class="r" style="left:246.20px;top:856.50px;width:4.20px;height:2.30px;background:#f3c21b;"></div>
<div class="t" style="left:364.10px;top:700.90px;font-size:8.6px;color:#1f1f1f;font-weight:700;">Watchlist</div>
<div class="r" style="left:363.70px;top:714.00px;width:3.60px;height:102.90px;background:#7d0606;"></div>
<div class="r" style="left:367.20px;top:714.00px;width:321.00px;height:0.90px;background:#e6e6e6;"></div>
<div class="t" style="left:371.40px;top:723.02px;font-size:7.55px;color:#2a2a2a;">John Williams</div>
<div class="t" style="right:488.40px;top:722.85px;font-size:11.1px;color:#161616;-webkit-text-stroke:0.6px #161616;">2.1k</div>
<svg class="s" style="left:620.50px;top:720.30px;" width="12" height="12" viewBox="0 0 12 12"><path d="M1.8 1.8 L9.8 9.8" stroke="#2fb434" stroke-width="1.35"/><path d="M2.2 10.1 H10.1 V2.2" fill="none" stroke="#2fb434" stroke-width="1.35"/></svg>
<svg class="s" style="left:656.60px;top:720.20px;" width="12" height="12" viewBox="0 0 12 12"><circle cx="6" cy="6" r="4.9" fill="none" stroke="#262626" stroke-width="1"/><path d="M3.5 6 H8.5" stroke="#262626" stroke-width="1.1"/></svg>
<div class="r" style="left:367.20px;top:739.70px;width:321.00px;height:0.90px;background:#e6e6e6;"></div>
<div class="t" style="left:371.40px;top:748.73px;font-size:7.55px;color:#2a2a2a;">Mary Coy</div>
<div class="t" style="right:488.40px;top:748.55px;font-size:11.1px;color:#161616;-webkit-text-stroke:0.6px #161616;">1.5k</div>
<svg class="s" style="left:620.50px;top:746.00px;" width="12" height="12" viewBox="0 0 12 12"><path d="M1.8 1.8 L9.8 9.8" stroke="#2fb434" stroke-width="1.35"/><path d="M2.2 10.1 H10.1 V2.2" fill="none" stroke="#2fb434" stroke-width="1.35"/></svg>
<svg class="s" style="left:656.60px;top:745.90px;" width="12" height="12" viewBox="0 0 12 12"><circle cx="6" cy="6" r="4.9" fill="none" stroke="#262626" stroke-width="1"/><path d="M3.5 6 H8.5" stroke="#262626" stroke-width="1.1"/></svg>
<div class="r" style="left:367.20px;top:765.40px;width:321.00px;height:0.90px;background:#e6e6e6;"></div>
<div class="t" style="left:371.40px;top:774.42px;font-size:7.55px;color:#2a2a2a;">Jim Phelps</div>
<div class="t" style="right:488.40px;top:774.25px;font-size:11.1px;color:#161616;-webkit-text-stroke:0.6px #161616;">1.5k</div>
<svg class="s" style="left:620.50px;top:771.70px;" width="12" height="12" viewBox="0 0 12 12"><path d="M1.8 1.8 L9.8 9.8" stroke="#2fb434" stroke-width="1.35"/><path d="M2.2 10.1 H10.1 V2.2" fill="none" stroke="#2fb434" stroke-width="1.35"/></svg>
<svg class="s" style="left:656.60px;top:771.60px;" width="12" height="12" viewBox="0 0 12 12"><circle cx="6" cy="6" r="4.9" fill="none" stroke="#262626" stroke-width="1"/><path d="M3.5 6 H8.5" stroke="#262626" stroke-width="1.1"/></svg>
<div class="r" style="left:367.20px;top:791.10px;width:321.00px;height:0.90px;background:#e6e6e6;"></div>
<div class="t" style="left:371.40px;top:800.12px;font-size:7.55px;color:#2a2a2a;">Cindy Carter</div>
<div class="t" style="right:488.40px;top:799.95px;font-size:11.1px;color:#161616;-webkit-text-stroke:0.6px #161616;">1.1k</div>
<svg class="s" style="left:620.50px;top:797.40px;" width="12" height="12" viewBox="0 0 12 12"><path d="M1.8 1.8 L9.8 9.8" stroke="#2fb434" stroke-width="1.35"/><path d="M2.2 10.1 H10.1 V2.2" fill="none" stroke="#2fb434" stroke-width="1.35"/></svg>
<svg class="s" style="left:656.60px;top:797.30px;" width="12" height="12" viewBox="0 0 12 12"><circle cx="6" cy="6" r="4.9" fill="none" stroke="#262626" stroke-width="1"/><path d="M3.5 6 H8.5" stroke="#262626" stroke-width="1.1"/></svg>
<div class="r" style="left:0.00px;top:858.80px;width:1100.00px;height:241.20px;background:#fff;"></div>
</div></body></html>
